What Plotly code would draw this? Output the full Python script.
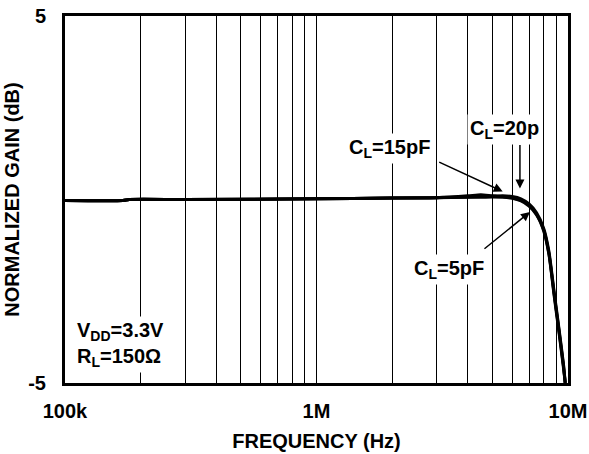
import math
import plotly.graph_objects as go

# Frequencies (Hz)
freq = [1e5, 1.7e5, 1.8e5, 3e5, 1e6, 2e6, 3e6, 4e6, 4.5e6, 5e6, 5.5e6, 6e6, 6.5e6,
        7e6, 7.5e6, 8e6, 8.4e6, 8.8e6, 9.2e6, 9.6e6, 9.75e6]

# Normalized gain (dB) per load capacitance
gain_5pF = [-0.03, -0.03, 0.0, 0.0, 0.02, 0.04, 0.05, 0.06, 0.06, 0.07, 0.06, 0.03, -0.04,
            -0.18, -0.42, -0.85, -1.5, -2.6, -3.6, -4.6, -5.0]
gain_15pF = [-0.03, -0.03, 0.0, 0.0, 0.02, 0.04, 0.05, 0.1, 0.13, 0.1, 0.08, 0.05, -0.02,
             -0.15, -0.4, -0.82, -1.48, -2.55, -3.55, -4.55, -5.0]
gain_20pF = [-0.03, -0.03, 0.0, 0.0, 0.02, 0.04, 0.05, 0.07, 0.08, 0.09, 0.1, 0.08, 0.02,
             -0.12, -0.36, -0.78, -1.42, -2.5, -3.5, -4.5, -5.0]

grid_vals = [1e5, 2e5, 3e5, 4e5, 5e5, 6e5, 7e5, 8e5, 9e5,
             1e6, 2e6, 3e6, 4e6, 5e6, 6e6, 7e6, 8e6, 9e6, 1e7]
grid_text = ["100k", "", "", "", "", "", "", "", "",
             "1M", "", "", "", "", "", "", "", "", "10M"]
y_ticks = [-5, 5]

FONT = "Liberation Sans, Arial, sans-serif"
fs = 20

fig = go.Figure()
for g in (gain_5pF, gain_15pF, gain_20pF):
    fig.add_trace(go.Scatter(x=freq, y=g, mode="lines",
                             line=dict(color="black", width=3, shape="spline", smoothing=0.6),
                             showlegend=False, hoverinfo="skip"))

fig.update_layout(
    width=589, height=454,
    margin=dict(l=65, r=21, t=16, b=71, autoexpand=False),
    paper_bgcolor="white", plot_bgcolor="white",
    font=dict(family=FONT, size=fs, color="black"),
    xaxis=dict(type="log", range=[5, 7], tickvals=grid_vals,
               ticktext=[f"<b>{t}</b>" if t else "" for t in grid_text],
               showgrid=True, gridcolor="black", gridwidth=1.2, ticks="",
               showline=True, linecolor="black", linewidth=3, mirror=True,
               tickfont=dict(size=fs), zeroline=False, ticklabelstandoff=8,
               automargin=False, ticklabeloverflow="allow",
               title=dict(text="<b>FREQUENCY (Hz)</b>", font=dict(size=fs), standoff=13)),
    yaxis=dict(range=[-5, 5], tickvals=y_ticks, ticktext=[f"<b>{v}</b>" for v in y_ticks],
               showgrid=False, zeroline=False, ticks="",
               showline=True, linecolor="black", linewidth=3, mirror=True,
               tickfont=dict(size=fs), ticklabelstandoff=12, automargin=False,
               ticklabeloverflow="allow",
               title=dict(text="<b>NORMALIZED GAIN (dB)</b>", font=dict(size=fs), standoff=4)),
)

def label(text, x, y, xanchor="center"):
    fig.add_annotation(text=f"<b>{text}</b>", xref="paper", yref="paper", x=x, y=y,
                       xanchor=xanchor, yanchor="middle", showarrow=False,
                       bgcolor="white", font=dict(size=fs), align="left", borderpad=2)

def arrow(x, y, ax, ay):
    fig.add_annotation(text="", x=x, y=y, xref="x", yref="y", ax=ax, ay=ay,
                       showarrow=True, arrowhead=2, arrowsize=1.2, arrowwidth=1.5,
                       arrowcolor="black")

arrow(math.log10(5.5e6), 0.22, -65, -30)
arrow(math.log10(6.44e6), 0.3, 0, -45)
arrow(math.log10(7.06e6), -0.34, -47, 38)

label("C<sub>L</sub>=15pF", 0.646, 0.638)
label("C<sub>L</sub>=20p", 0.873, 0.69)
label("C<sub>L</sub>=5pF", 0.763, 0.31)
label("V<sub>DD</sub>=3.3V<br>R<sub>L</sub>=150Ω", 0.018, 0.105, xanchor="left")

fig.write_html("out.html",
               config={"displayModeBar": False},
               post_script="document.body.style.margin='0';"
                           "document.documentElement.style.overflow='hidden';")
